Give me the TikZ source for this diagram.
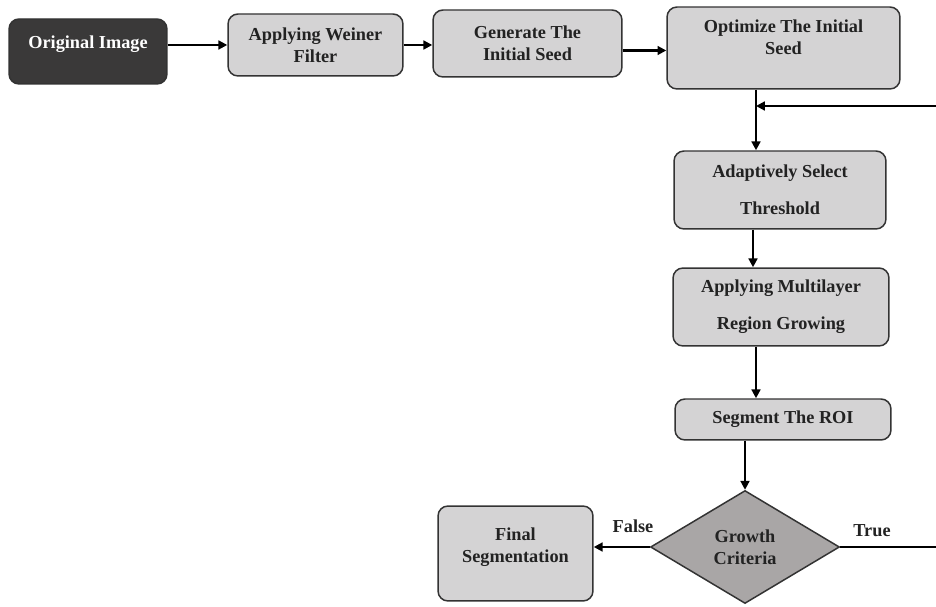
\documentclass[tikz,border=0pt]{standalone}
\usepackage{fontspec}
\setmainfont{Liberation Serif}
\usetikzlibrary{arrows.meta,shapes.geometric}

\definecolor{boxgray}{HTML}{D4D3D4}
\definecolor{darkbox}{HTML}{3A3939}
\definecolor{diagray}{HTML}{A9A6A6}
\definecolor{inkgray}{HTML}{222222}

\newcommand{\boxfont}{\fontsize{10.4}{12.5}\selectfont\bfseries}

\begin{document}
\begin{tikzpicture}[
    x=0.02cm, y=-0.02cm,
    block/.style={rectangle, draw=black!80, line width=0.85pt, rounded corners=0.2cm, fill=boxgray, align=center, inner sep=2pt, font=\boxfont, text=inkgray},
    decision/.style={diamond, draw=black!80, line width=0.85pt, fill=diagray, align=center, inner sep=0pt, font=\boxfont, text=inkgray},
    arrow/.style={-{Triangle[length=5pt,width=5pt]}, line width=1.2pt},
    link/.style={line width=1.2pt},
    tag/.style={font=\boxfont, text=inkgray}
]
\useasboundingbox (0,0) rectangle (936,607);

\node[block, fill=darkbox, text=white, minimum width=3.16cm, minimum height=1.3cm, text depth=0.38cm] (orig) at (88,51.5) {Original Image};
\node[block, minimum width=3.5cm, minimum height=1.24cm] (wein) at (315.5,45) {Applying Weiner\\Filter};
\node[block, minimum width=3.78cm, minimum height=1.34cm] (gen) at (527.5,43.5) {Generate The\\Initial Seed};
\node[block, minimum width=4.66cm, minimum height=1.64cm, text depth=0.44cm] (opt) at (783.5,48) {Optimize The Initial\\Seed};

\node[block, minimum width=4.24cm, minimum height=1.56cm] (ada) at (780,190) {Adaptively Select\\[0.3cm]Threshold};
\node[block, minimum width=4.32cm, minimum height=1.56cm] (mlr) at (781,307) {Applying Multilayer\\[0.3cm]Region Growing};
\node[block, minimum width=4.32cm, minimum height=0.82cm] (roi) at (783,419.5) {Segment The ROI};

\node[decision, minimum width=3.78cm, minimum height=2.26cm] (crit) at (745,547) {Growth\\Criteria};
\node[block, minimum width=3.1cm, minimum height=1.9cm, text depth=0.33cm] (fin) at (515.5,553.5) {Final\\Segmentation};

\coordinate (spine) at (756,0);
\coordinate (join) at (756,106);
\coordinate (back) at (936,106);
\coordinate (out) at (936,547);

% top row
\draw[arrow] (orig.east |- wein.west) -- (wein.west);
\draw[arrow] (wein.east) -- (wein.east -| gen.west);
\draw[arrow] ([yshift=-0.14cm]gen.east) -- ([yshift=-0.14cm]gen.east -| opt.west);

% down the column
\draw[arrow] (spine |- opt.south) -- (spine |- ada.north);
\draw[arrow] (back) -- (join);
\draw[arrow] ([xshift=-0.06cm]spine |- ada.south) -- ([xshift=-0.06cm]spine |- mlr.north);
\draw[arrow] (spine |- mlr.south) -- (spine |- roi.north);
\draw[arrow] (crit.north |- roi.south) -- (crit.north);

% decision
\draw[arrow] (crit.west) -- (crit.west -| fin.east);
\draw[link] (crit.east) -- (out);
\node[tag] (lblfalse) at (633,526) {False};
\node[tag] (lbltrue) at (872,531) {True};
\end{tikzpicture}
\end{document}
